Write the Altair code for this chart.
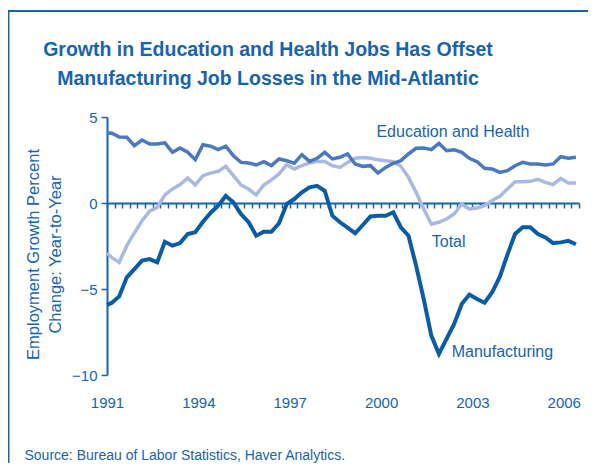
import altair as alt
import pandas as pd

# ---- data (quarterly) ----
edu = [4.05,
       4.07, 3.84, 3.82, 3.33, 3.66, 3.43, 3.43, 3.50, 2.95, 3.20, 2.95, 2.52, 3.39, 3.30, 3.10, 3.30,
       2.75, 2.36, 2.33, 2.21, 2.40, 2.17, 2.56, 2.46, 2.31, 2.81, 2.42, 2.60, 2.95, 2.56, 2.66,
       2.85, 2.27, 2.13, 2.17, 1.74, 2.07, 2.31, 2.46, 2.85, 3.18, 3.20, 3.10, 3.47, 3.04, 3.10, 2.95,
       2.60, 2.40, 2.02, 1.98, 1.78, 1.88, 2.17, 2.36, 2.27, 2.27, 2.21, 2.27, 2.69, 2.60, 2.66]

total = [-2.90,
         -3.16, -3.45, -2.48, -1.74, -1.03, -0.48, -0.25, 0.47, 0.81, 1.07, 1.45, 1.05, 1.59, 1.74, 1.84, 2.13,
         1.59, 1.05, 0.81, 0.47, 1.05, 1.34, 1.69, 2.23, 1.98, 2.17, 2.33, 2.42, 2.42, 2.17, 2.07,
         2.36, 2.60, 2.64, 2.60, 2.52, 2.46, 2.40, 2.13, 1.49, 0.62, -0.35, -1.22, -1.12, -0.93, -0.64, -0.06,
         -0.35, -0.29, -0.15, 0.14, 0.39, 0.81, 1.24, 1.24, 1.26, 1.38, 1.20, 1.07, 1.43, 1.16, 1.16]

mfg = [-5.93,
       -5.81, -5.43, -4.32, -3.84, -3.35, -3.26, -3.45, -2.25, -2.48, -2.33, -1.80, -1.70, -1.09, -0.58, -0.16, 0.41,
       0.04, -0.64, -1.12, -1.90, -1.67, -1.67, -1.18, -0.06, 0.23, 0.62, 0.91, 1.00, 0.71, -0.74, -1.12,
       -1.43, -1.76, -1.28, -0.78, -0.74, -0.74, -0.54, -1.41, -1.90, -3.64, -5.58, -7.71, -8.78, -7.90, -7.03, -5.87,
       -5.32, -5.58, -5.80, -5.19, -4.28, -3.00, -1.80, -1.41, -1.41, -1.80, -2.00, -2.33, -2.29, -2.20, -2.40]

# time positions: start of 1991, then one point per quarter
t = [1991.0] + [round(1991.15 + 0.25 * k, 2) for k in range(62)]

quarter_ticks = [1991 + 0.25 * i for i in range(63)]
y_ticks = [5, 0, -5, -10]

title_lines = ["Growth in Education and Health Jobs Has Offset",
               "Manufacturing Job Losses in the Mid-Atlantic"]
y_title = ["Employment Growth Percent", "Change: Year-to-Year"]
source = "Source: Bureau of Labor Statistics, Haver Analytics."

df = pd.DataFrame({
    "t": t * 3,
    "v": total + edu + mfg,
    "s": ["Total"] * len(t) + ["Education and Health"] * len(t) + ["Manufacturing"] * len(t),
})

labels_df = pd.DataFrame({
    "t": [2002.36, 2002.22, 2002.32],
    "v": [3.82, -2.54, -8.97],
    "txt": ["Education and Health", "Total", "Manufacturing"],
    "al": ["center", "center", "left"],
})

# ---- style ----
W, H = 472, 258
YMIN, YMAX = -10, 5
BLUE = "#1764ad"
FONT = "Liberation Sans, Arial, sans-serif"
colors = {"Total": "#a9b9e1", "Education and Health": "#4a7abd", "Manufacturing": "#0b5ca8"}
widths = {"Total": 3.5, "Education and Health": 3.5, "Manufacturing": 4}

zero_offset = -H * (0 - YMIN) / (YMAX - YMIN)

x_scale = alt.Scale(domain=[1991, 2006.5], nice=False, zero=False)
y_scale = alt.Scale(domain=[YMIN, YMAX], nice=False, zero=False)

x_axis = alt.Axis(
    values=quarter_ticks,
    labelExpr="(datum.value - 1991) % 3 == 0 ? format(datum.value, 'd') : ''",
    offset=zero_offset,
    grid=False,
    domainColor=BLUE, domainWidth=2,
    tickColor=BLUE, tickWidth=1.5, tickSize=5,
    labelColor=BLUE, labelFont=FONT, labelFontSize=15,
    labelPadding=187, labelOverlap=False, labelFlush=False,
    title=source,
    titleFont=FONT, titleFontSize=14, titleFontWeight="normal", titleColor=BLUE,
    titleX=-83, titleY=256, titleAlign="left", titleAnchor="start", titleBaseline="alphabetic",
)

y_axis = alt.Axis(
    values=y_ticks,
    grid=False,
    domainColor=BLUE, domainWidth=2,
    tickColor=BLUE, tickWidth=1.5, tickSize=6,
    labelColor=BLUE, labelFont=FONT, labelFontSize=15, labelPadding=4,
    title=y_title,
    titleFont=FONT, titleFontSize=16.5, titleFontWeight="normal", titleColor=BLUE,
    titleX=-66, titleY=137, titleAngle=-90, titleAlign="center",
    titleBaseline="bottom", titleLineHeight=22,
)

X = alt.X("t:Q", scale=x_scale, axis=x_axis)
Y = alt.Y("v:Q", scale=y_scale, axis=y_axis)

base = alt.Chart(df)

def series_layer(name):
    return base.transform_filter(alt.datum.s == name).mark_line(
        color=colors[name], strokeWidth=widths[name], strokeJoin="miter"
    ).encode(x=X, y=Y)

lines = [series_layer("Total"), series_layer("Education and Health"), series_layer("Manufacturing")]

text_center = alt.Chart(labels_df).transform_filter(alt.datum.al == "center").mark_text(
    font=FONT, fontSize=16, color=BLUE, align="center", baseline="alphabetic"
).encode(x=X, y=Y, text="txt:N")

text_left = alt.Chart(labels_df).transform_filter(alt.datum.al == "left").mark_text(
    font=FONT, fontSize=16, color=BLUE, align="left", baseline="alphabetic"
).encode(x=X, y=Y, text="txt:N")

one = pd.DataFrame({"k": [0]})
title1 = alt.Chart(one).mark_text(
    font=FONT, fontSize=19.5, fontWeight="bold", color=BLUE, align="center", baseline="alphabetic",
    text=title_lines[0]
).encode(x=alt.value(161), y=alt.value(-61))
title2 = alt.Chart(one).mark_text(
    font=FONT, fontSize=19.5, fontWeight="bold", color=BLUE, align="center", baseline="alphabetic",
    text=title_lines[1]
).encode(x=alt.value(161), y=alt.value(-32))

frame_top = alt.Chart(one).mark_rule(color=BLUE, strokeWidth=2).encode(
    x=alt.value(-100), x2=alt.value(W + 30), y=alt.value(-106)
)
frame_left = alt.Chart(one).mark_rule(color=BLUE, strokeWidth=3).encode(
    x=alt.value(-99), y=alt.value(-107), y2=alt.value(H + 120)
)

chart = alt.layer(*lines, text_center, text_left, title1, title2, frame_top, frame_left).properties(
    width=W, height=H,
    autosize=alt.AutoSizeParams(type="none"),
    padding={"left": 99, "top": 109, "right": 9, "bottom": 88},
).configure_view(strokeWidth=0)

chart.save("out.html", embed_options={"renderer": "svg", "actions": False})
